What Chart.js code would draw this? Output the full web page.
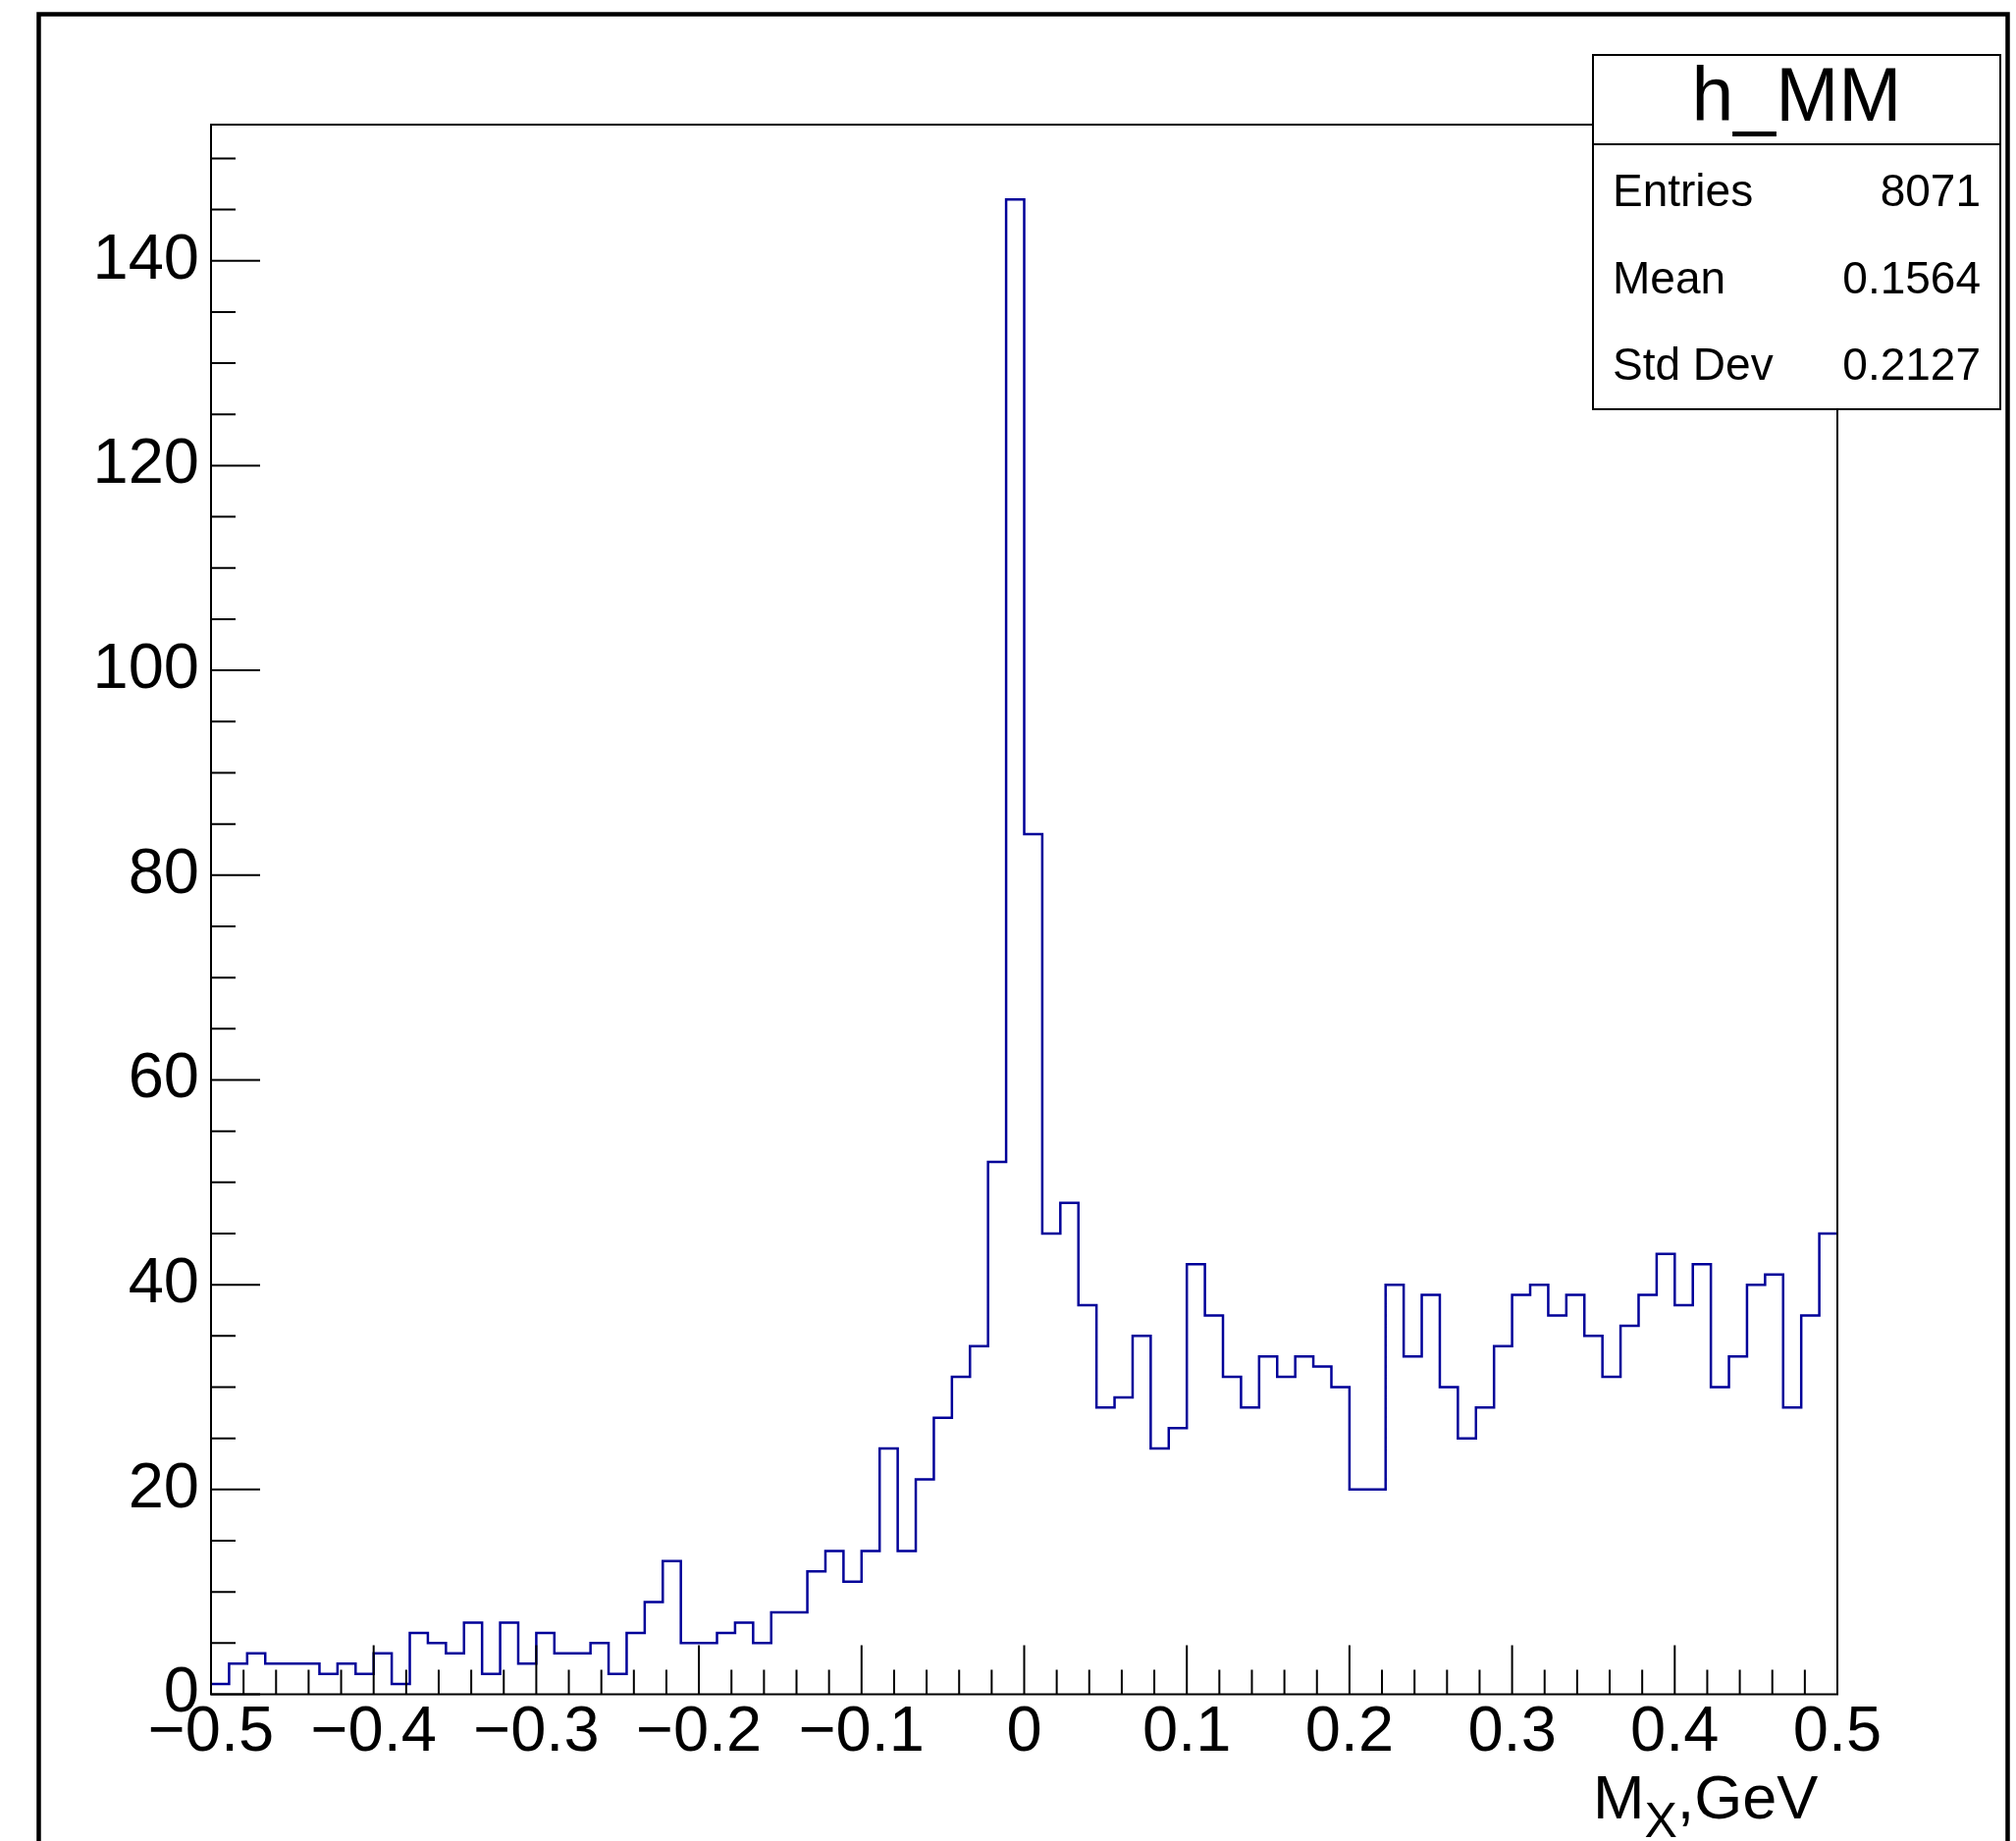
<!DOCTYPE html>
<html>
<head>
<meta charset="utf-8">
<title>h_MM</title>
<script src="https://cdn.jsdelivr.net/npm/chart.js@4.4.1/dist/chart.umd.min.js"></script>
<style>
  html, body { margin: 0; padding: 0; background: #fff; }
  canvas { display: block; }
</style>
</head>
<body>
<canvas id="mmChart" width="2054" height="1876"></canvas>
<script>
// Missing mass histogram: 90 bins from -0.5 to 0.5 GeV
const xMin = -0.5;
const xMax = 0.5;
const yMax = 153.3;

const binCounts = [
    1, 3, 4, 3, 3, 3, 2, 3, 2, 4,
    1, 6, 5, 4, 7, 2, 7, 3, 6, 4,
    4, 5, 2, 6, 9, 13, 5, 5, 6, 7,
    5, 8, 8, 12, 14, 11, 14, 24, 14, 21,
    27, 31, 34, 52, 146, 84, 45, 48, 38, 28,
    29, 35, 24, 26, 42, 37, 31, 28, 33, 31,
    33, 32, 30, 20, 20, 40, 33, 39, 30, 25,
    28, 34, 39, 40, 37, 39, 35, 31, 36, 39,
    43, 38, 42, 30, 33, 40, 41, 28, 37, 45
];

const xTickValues = [-0.5, -0.4, -0.3, -0.2, -0.1, 0, 0.1, 0.2, 0.3, 0.4, 0.5];
const yTickValues = [0, 20, 40, 60, 80, 100, 120, 140];

const statsTitle = 'h_MM';
const statsNames = ['Entries', 'Mean', 'Std Dev'];
const statsValues = ['8071', '0.1564', '0.2127'];

const FONT = '"Liberation Sans", Arial, Helvetica, sans-serif';
const LINE_COLOR = '#000099';

document.addEventListener('DOMContentLoaded', function() {
    Chart.defaults.font.family = FONT;
    Chart.defaults.color = '#000';

    // one point per bin low edge, plus the upper edge of the last bin
    const binWidth = (xMax - xMin) / binCounts.length;
    const points = binCounts.map((c, i) => ({ x: xMin + i * binWidth, y: c }));
    points.push({ x: xMax, y: binCounts[binCounts.length - 1] });

    function formatX(v) {
        if (Math.abs(v) < 1e-9) return '0';
        return (v < 0 ? '\u2212' : '') + Math.abs(v).toFixed(1);
    }

    // frame, inner ticks, stats box and axis title in ROOT style
    const rootFrame = {
        id: 'rootFrame',
        afterDraw(chart) {
            const ctx = chart.ctx;
            const a = chart.chartArea;
            const xs = chart.scales.x;
            const ys = chart.scales.y;
            ctx.save();
            ctx.strokeStyle = '#000';

            // canvas border
            ctx.lineWidth = 4.5;
            ctx.beginPath();
            ctx.moveTo(39.5, 1900);
            ctx.lineTo(39.5, 14.5);
            ctx.lineTo(2045.5, 14.5);
            ctx.lineTo(2045.5, 1900);
            ctx.stroke();

            // plot frame
            ctx.lineWidth = 2;
            ctx.strokeRect(a.left, a.top, a.right - a.left, a.bottom - a.top);

            // y ticks: major every 20, minor every 5
            ctx.beginPath();
            for (let v = 0; v <= yMax; v += 5) {
                const py = ys.getPixelForValue(v);
                const len = v % 20 === 0 ? 50 : 25;
                ctx.moveTo(a.left, py);
                ctx.lineTo(a.left + len, py);
            }
            // x ticks: major every 0.1, minor every 0.02
            for (let i = 0; i <= 50; i++) {
                const px = xs.getPixelForValue(xMin + i * 0.02);
                const len = i % 5 === 0 ? 50 : 25;
                ctx.moveTo(px, a.bottom);
                ctx.lineTo(px, a.bottom - len);
            }
            ctx.stroke();

            // stats box
            const bx = 1623, by = 56, bw = 415, bh = 361, th = 91;
            ctx.fillStyle = '#fff';
            ctx.fillRect(bx, by, bw, bh);
            ctx.strokeRect(bx, by, bw, bh);
            ctx.beginPath();
            ctx.moveTo(bx, by + th);
            ctx.lineTo(bx + bw, by + th);
            ctx.stroke();

            ctx.fillStyle = '#000';
            ctx.textBaseline = 'alphabetic';
            ctx.textAlign = 'center';
            ctx.font = '77px ' + FONT;
            ctx.fillText(statsTitle, bx + bw / 2, 123);

            ctx.font = '46px ' + FONT;
            statsNames.forEach((name, i) => {
                const base = 210 + i * 88.5;
                ctx.textAlign = 'left';
                ctx.fillText(name, bx + 20, base);
                ctx.textAlign = 'right';
                ctx.fillText(statsValues[i], bx + bw - 20, base);
            });

            // x axis title with subscript
            ctx.textAlign = 'left';
            let tx = 1623;
            ctx.font = '63px ' + FONT;
            ctx.fillText('M', tx, 1853);
            tx += ctx.measureText('M').width;
            ctx.font = '50px ' + FONT;
            ctx.fillText('X', tx, 1872);
            tx += ctx.measureText('X').width;
            ctx.font = '63px ' + FONT;
            ctx.fillText(',GeV', tx, 1853);

            ctx.restore();
        }
    };

    const mmCtx = document.getElementById('mmChart').getContext('2d');
    const mmChart = new Chart(mmCtx, {
        type: 'line',
        data: {
            datasets: [{
                label: statsTitle,
                data: points,
                stepped: true,
                fill: false,
                borderColor: LINE_COLOR,
                borderWidth: 2.5,
                pointRadius: 0,
                pointHoverRadius: 0
            }]
        },
        options: {
            responsive: false,
            animation: false,
            events: [],
            layout: {
                padding: { left: 0, top: 127, right: 182, bottom: 0 }
            },
            plugins: {
                legend: { display: false },
                title: { display: false },
                tooltip: { enabled: false }
            },
            scales: {
                x: {
                    type: 'linear',
                    min: xMin,
                    max: xMax,
                    grid: { display: false, drawTicks: false },
                    border: { display: false },
                    afterBuildTicks: (scale) => {
                        scale.ticks = xTickValues.map(v => ({ value: v }));
                    },
                    afterFit: (scale) => { scale.height = 149.5; },
                    ticks: {
                        autoSkip: false,
                        maxRotation: 0,
                        padding: 7,
                        font: { size: 65, lineHeight: 1 },
                        callback: (v) => formatX(v)
                    }
                },
                y: {
                    type: 'linear',
                    min: 0,
                    max: yMax,
                    grid: { display: false, drawTicks: false },
                    border: { display: false },
                    afterBuildTicks: (scale) => {
                        scale.ticks = yTickValues.map(v => ({ value: v }));
                    },
                    afterFit: (scale) => { scale.width = 215; },
                    ticks: {
                        autoSkip: false,
                        padding: 12,
                        font: { size: 65, lineHeight: 1 },
                        callback: (v) => String(v)
                    }
                }
            }
        },
        plugins: [rootFrame]
    });
});
</script>
</body>
</html>
